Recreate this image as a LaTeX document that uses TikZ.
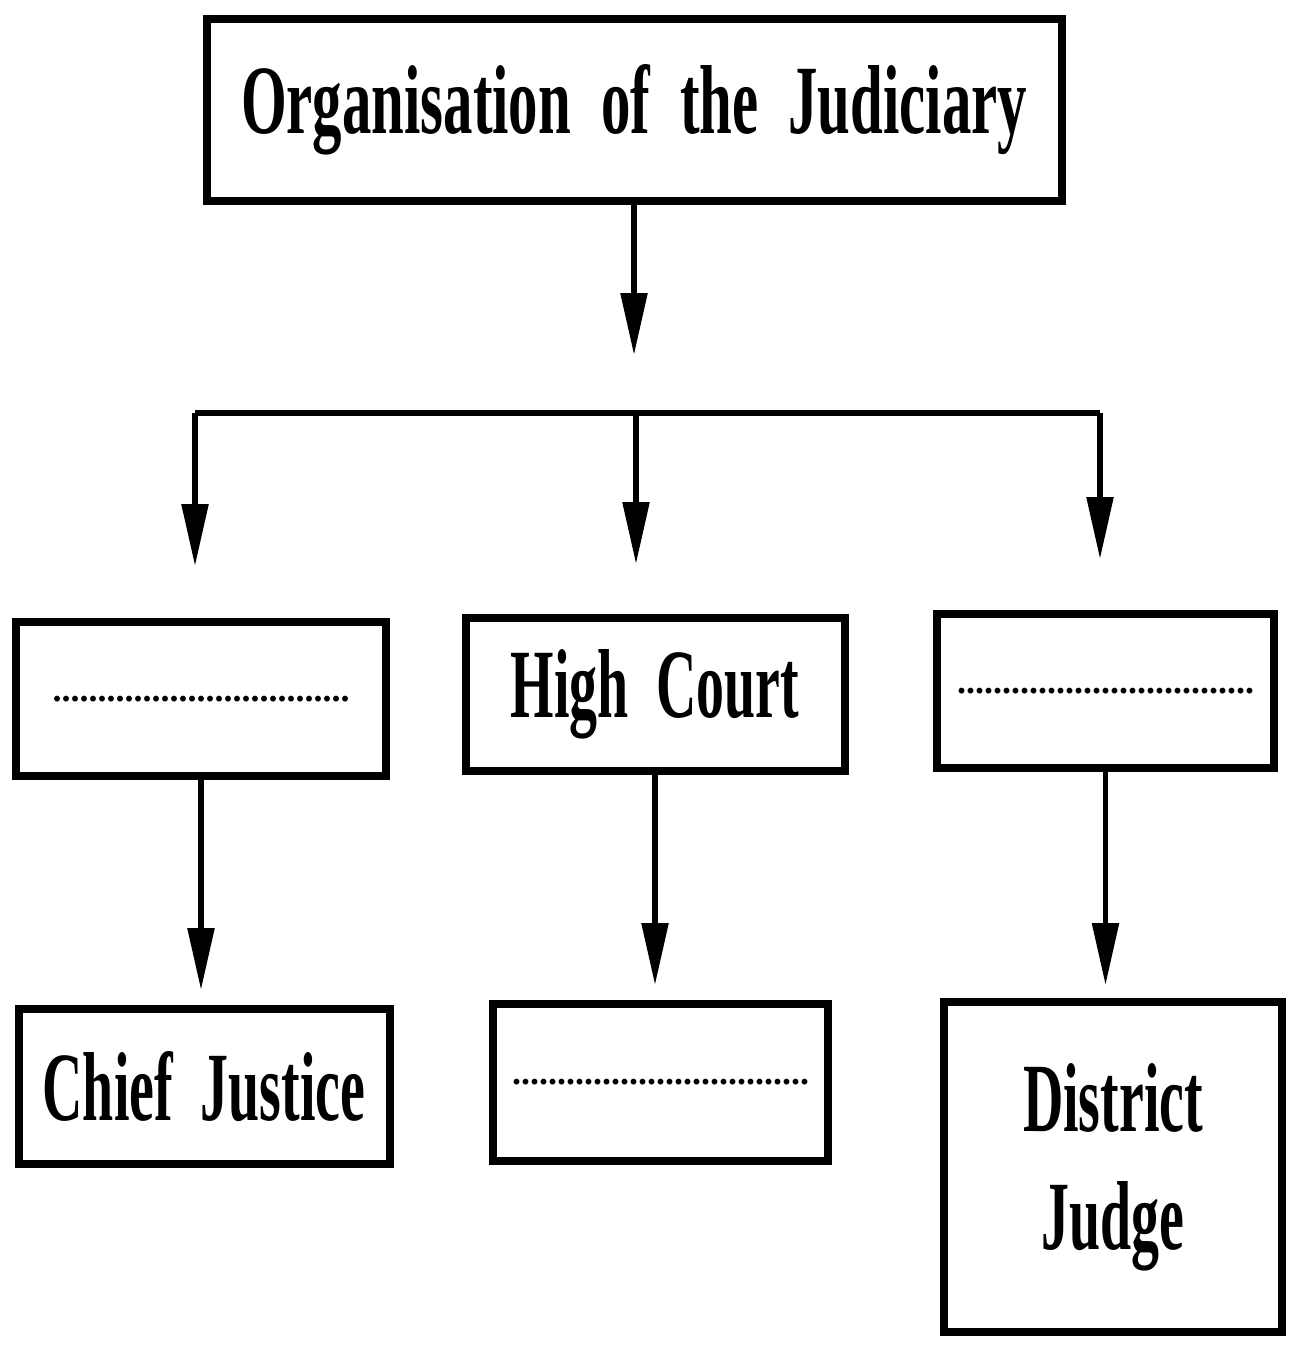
\documentclass[tikz,border=0pt]{standalone}
\usepackage{fontspec}
\setmainfont{Liberation Serif}
\newfontfamily\cond[FakeStretch=0.57]{Liberation Serif Bold}
\newfontfamily\condt[FakeStretch=0.6]{Liberation Serif Bold}
\newfontfamily\dotsfont{Liberation Serif Bold}
\usetikzlibrary{arrows.meta}
\begin{document}
\begin{tikzpicture}[x=1pt,y=-1pt,
  box/.style={draw=black,line width=8pt,rectangle,inner sep=0pt,align=center},
  arr/.style={line width=5.5pt,-{Triangle[length=62pt,width=26pt]}},
  ln/.style={line width=5.5pt},
  big/.style={font=\cond\fontsize{98}{118}\selectfont},
  bigt/.style={font=\condt\fontsize{98}{118}\selectfont},
  dotline/.style={font=\dotsfont\fontsize{36}{40}\selectfont}]
\useasboundingbox (0,0) rectangle (1294,1349);
\fill[white] (0,0) rectangle (1294,1349);
\node[box,bigt,minimum width=855pt,minimum height=182pt] (title) at (634,110) {Organisation\hspace{30pt}of\hspace{30pt}the\hspace{30pt}Judiciary};
\node[box,dotline,minimum width=370pt,minimum height=154pt] (m1) at (201,699) {.................................};
\node[box,big,minimum width=379pt,minimum height=153pt] (m2) at (655,694.5) {High\ \ Court};
\node[box,dotline,minimum width=337pt,minimum height=154pt] (m3) at (1105.5,691) {.................................};
\node[box,big,minimum width=371pt,minimum height=155pt] (b1) at (204,1086.5) {Chief\ \ Justice};
\node[box,dotline,minimum width=335pt,minimum height=157pt] (b2) at (660.5,1082.5) {.................................};
\node[box,big,minimum width=338pt,minimum height=330pt] (b3) at (1113,1167) {District\\Judge};
\coordinate (cl) at (195,413);
\coordinate (cc) at (636,413);
\coordinate (cr) at (1100,413);
\draw[arr,shorten >=58pt] (title.south) -- (title.south |- cc);
\draw[ln] (cl) -- (cr);
\draw[arr,shorten >=52pt] (cl) -- (cl |- m1.north);
\draw[arr,shorten >=50pt] (cc) -- (cc |- m2.north);
\draw[arr,shorten >=51pt] (cr) -- (cr |- m3.north);
\draw[arr,shorten >=15pt] (m1.south) -- (m1.south |- b1.north);
\draw[arr,shorten >=15pt] (m2.south) -- (m2.south |- b2.north);
\draw[arr,shorten >=13pt] (m3.south) -- (m3.south |- b3.north);
\end{tikzpicture}
\end{document}
